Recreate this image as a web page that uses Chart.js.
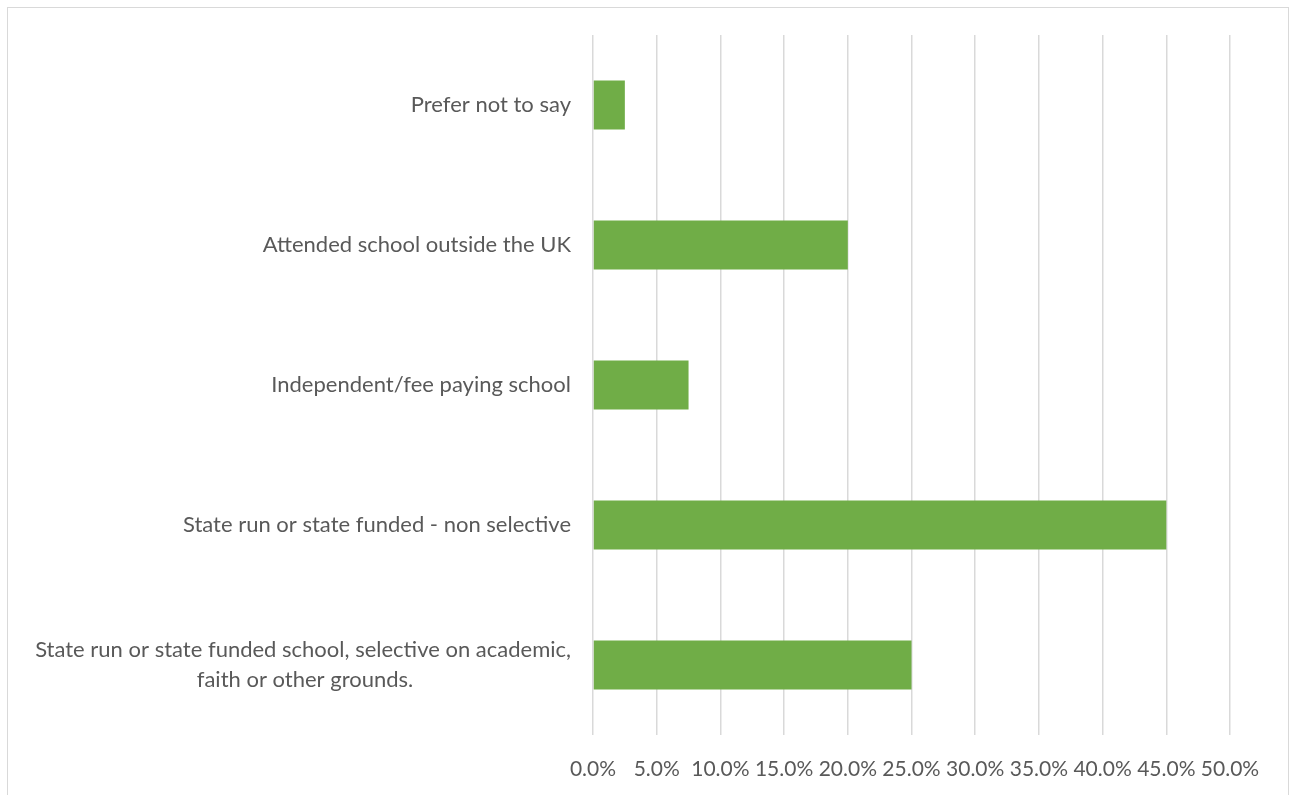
<!DOCTYPE html>
<html>
<head>
<meta charset="utf-8">
<script src="https://cdn.jsdelivr.net/npm/chart.js@4"></script>
<style>
  html, body { margin: 0; padding: 0; background: #fff; overflow: hidden; }
  .frame { position: absolute; left: 7px; top: 7px; width: 1280px; height: 800px; border: 1.5px solid #d9d9d9; }
  .wrap { position: absolute; left: 0; top: 0; width: 1295px; height: 795px; }
</style>
</head>
<body>
<div class="frame"></div>
<div class="wrap"><canvas id="chart"></canvas></div>
<script>
// categories, top to bottom
const categorie = [
  'Prefer not to say',
  'Attended school outside the UK',
  'Independent/fee paying school',
  'State run or state funded - non selective',
  ['State run or state funded school, selective on academic,', 'faith or other grounds.']
];
const percentuali = [2.5, 20, 7.5, 45, 25];
const tickMin = 0;
const tickMax = 50;
const tickStep = 5;

const testo = '#595959';
const fontY = { family: 'Lato, "Open Sans", sans-serif', size: 22, lineHeight: 1.36 };
const fontX = { family: 'Lato, "Open Sans", sans-serif', size: 21 };

// pad shorter lines with spaces so multi-line labels look centred
const misura = document.createElement('canvas').getContext('2d');
misura.font = fontY.size + 'px ' + fontY.family;
function centra(label) {
  if (!Array.isArray(label)) return label;
  const larghezze = label.map(r => misura.measureText(r).width);
  const maxW = Math.max(...larghezze);
  const spazio = misura.measureText(' ').width;
  return label.map((r, i) => r + ' '.repeat(Math.round((maxW - larghezze[i]) / 2 / spazio)));
}

const ctx = document.getElementById('chart');
new Chart(ctx, {
  type: 'bar',
  data: {
    labels: categorie,
    datasets: [{
      data: percentuali,
      backgroundColor: '#70ad47',
      borderWidth: 0,
      barPercentage: 1,
      categoryPercentage: 0.35
    }]
  },
  options: {
    indexAxis: 'y',
    responsive: true,
    maintainAspectRatio: false,
    animation: false,
    devicePixelRatio: 1,
    layout: { padding: { top: 35, right: 65, left: 0, bottom: 0 } },
    plugins: { legend: { display: false }, tooltip: { enabled: false } },
    scales: {
      x: {
        min: tickMin,
        max: tickMax,
        ticks: {
          stepSize: tickStep,
          color: testo,
          font: fontX,
          padding: 22,
          maxRotation: 0,
          autoSkip: false,
          callback: v => v.toFixed(1) + '%'
        },
        grid: { color: '#d9d9d9', lineWidth: 1.5, drawTicks: false },
        border: { display: false },
        afterFit: s => { s.height = 60; s.paddingLeft = 0; s.paddingRight = 0; }
      },
      y: {
        ticks: {
          color: testo,
          font: fontY,
          padding: 22,
          autoSkip: false,
          callback: function (v) { return centra(this.getLabelForValue(v)); }
        },
        grid: { display: false, drawTicks: false },
        border: { display: false },
        afterFit: s => { s.width = 593; s.paddingTop = 0; s.paddingBottom = 0; }
      }
    }
  }
});
</script>
</body>
</html>
